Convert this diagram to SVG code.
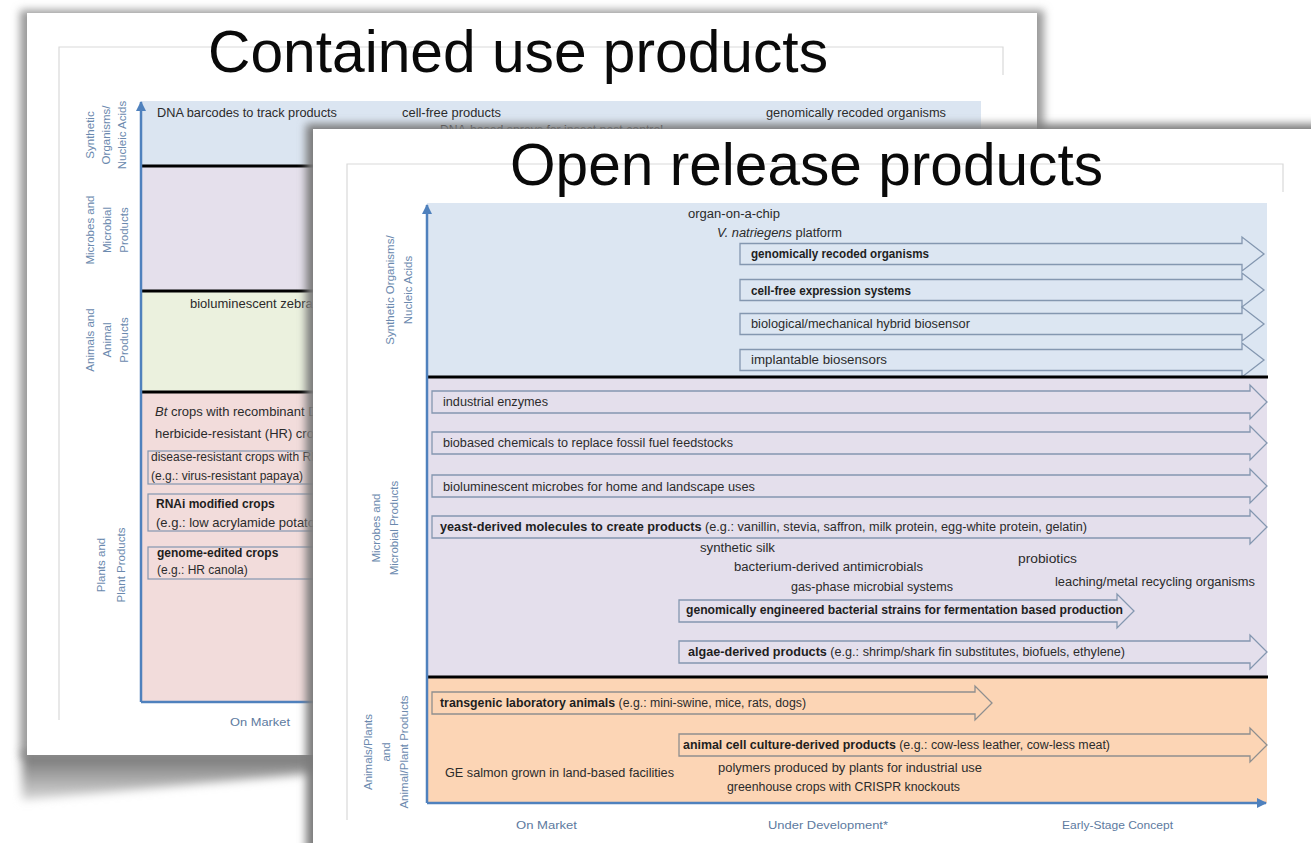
<svg xmlns="http://www.w3.org/2000/svg" width="1311" height="843" viewBox="0 0 1311 843">
<style>
.t{font-family:"Liberation Sans",Arial,sans-serif;font-size:12px;fill:#2b2b2b}
.tc{font-family:"Liberation Sans",Arial,sans-serif;font-size:13px;fill:#2b2b2b}
.b{font-weight:bold;fill:#1e1e1e}
.it{font-style:italic}
.lab{font-family:"Liberation Sans",Arial,sans-serif;font-size:11.5px;fill:#6b89ae;text-anchor:middle}
.ax{font-family:"Liberation Sans",Arial,sans-serif;font-size:11.5px;fill:#5d7aa0}
.title{font-family:"Liberation Sans",Arial,sans-serif;font-size:59px;fill:#0a0a0a}
.frame{stroke:#d9d9d9;stroke-width:1.2;fill:none}
.sep{stroke:#000;stroke-width:3}
.axis{stroke:#4f81bd;stroke-width:2.5;fill:none}
.blk{stroke:#8497b0;stroke-width:1.3}
.blkg{stroke:#8f8f8f;stroke-width:1.3}
.box{fill:none;stroke:#8497b0;stroke-width:1.2}
.fb{fill:#dce6f2}.fl{fill:#e4dfec}.fo{fill:#fcd5b5}
</style>
<defs>
<filter id="blur4" x="-10%" y="-10%" width="120%" height="120%"><feGaussianBlur stdDeviation="4"/></filter>
<filter id="blur6" x="-20%" y="-50%" width="140%" height="200%"><feGaussianBlur stdDeviation="5"/></filter>
<linearGradient id="sg" x1="0" y1="0" x2="0" y2="1"><stop offset="0" stop-color="#6e6e6e"/><stop offset="1" stop-color="#d8d8d8"/></linearGradient>
<marker id="ah" viewBox="0 0 10 10" refX="9" refY="5" markerWidth="4" markerHeight="4" orient="auto"><path d="M0 0 L10 5 L0 10 Z" fill="#4f81bd"/></marker>
<clipPath id="topclip"><rect x="0" y="0" width="1311" height="129"/></clipPath>
</defs>
<rect width="1311" height="843" fill="#fff"/>

<g id="back-page">
<rect x="20" y="10" width="1024" height="748" fill="#9a9a9a" filter="url(#blur4)"/>
<polygon points="22,752 330,752 330,772 22,800" fill="url(#sg)" filter="url(#blur6)"/>
<rect x="27" y="13" width="1010" height="742" fill="#fff"/>
<path class="frame" d="M59 720 V47 H1003 V75"/>
<rect x="141" y="101" width="840" height="65" fill="#dbe5f1"/>
<rect x="141" y="166" width="200" height="125" fill="#e5e0ec"/>
<rect x="141" y="291" width="200" height="101" fill="#ebf1de"/>
<rect x="141" y="392" width="200" height="310" fill="#f2dcdb"/>
<line class="sep" x1="141" y1="166" x2="340" y2="166"/>
<line class="sep" x1="141" y1="291" x2="340" y2="291"/>
<line class="sep" x1="141" y1="392" x2="340" y2="392"/>
<line class="axis" x1="141" y1="702" x2="340" y2="702"/>
<line class="axis" x1="141" y1="702" x2="141" y2="102" marker-end="url(#ah)"/>
<text class="title" x="208" y="72" textLength="620" lengthAdjust="spacingAndGlyphs">Contained use products</text>
<g transform="translate(106,135) rotate(-90)"><text class="lab" x="0" y="-12">Synthetic<tspan x="0" dy="16">Organisms/</tspan><tspan x="0" dy="16">Nucleic Acids</tspan></text></g>
<g transform="translate(107,230) rotate(-90)"><text class="lab" x="0" y="-13">Microbes and<tspan x="0" dy="17">Microbial</tspan><tspan x="0" dy="17">Products</tspan></text></g>
<g transform="translate(107,340) rotate(-90)"><text class="lab" x="0" y="-13">Animals and<tspan x="0" dy="17">Animal</tspan><tspan x="0" dy="17">Products</tspan></text></g>
<g transform="translate(111,565) rotate(-90)"><text class="lab" x="0" y="-6">Plants and<tspan x="0" dy="20">Plant Products</tspan></text></g>
<text class="t" x="157" y="117" textLength="180" lengthAdjust="spacingAndGlyphs">DNA barcodes to track products</text>
<text class="t" x="402" y="117" textLength="99" lengthAdjust="spacingAndGlyphs">cell-free products</text>
<text class="t" x="766" y="117" textLength="180" lengthAdjust="spacingAndGlyphs">genomically recoded organisms</text>
<g clip-path="url(#topclip)"><text class="t" x="440" y="134" textLength="223" lengthAdjust="spacingAndGlyphs">DNA-based sprays for insect pest control</text></g>
<text class="tc" x="190" y="308">bioluminescent zebrafish</text>
<text class="tc" x="155" y="416"><tspan class="it">Bt</tspan> crops with recombinant DNA</text>
<text class="tc" x="155" y="438">herbicide-resistant (HR) crops</text>
<rect class="box" x="148" y="451" width="190" height="33"/>
<text class="t" x="151" y="461">disease-resistant crops with RNAi</text>
<text class="t" x="151" y="480">(e.g.: virus-resistant papaya)</text>
<rect class="box" x="148" y="494" width="190" height="37"/>
<text class="t b" x="156" y="508">RNAi modified crops</text>
<text class="tc" x="156" y="527">(e.g.: low acrylamide potato)</text>
<rect class="box" x="148" y="547" width="190" height="32"/>
<text class="t b" x="157" y="557">genome-edited crops</text>
<text class="t" x="157" y="574">(e.g.: HR canola)</text>
<text class="ax" x="230" y="726" textLength="60" lengthAdjust="spacingAndGlyphs">On Market</text>
</g>

<g id="front-page">
<rect x="306" y="124" width="1020" height="730" fill="#7a7a7a" filter="url(#blur4)"/>
<rect x="313" y="129" width="1000" height="720" fill="#fff"/>
<path class="frame" d="M347 820 V164 H1283 V192"/>
<rect class="fb" x="427" y="203" width="840" height="174"/>
<rect class="fl" x="427" y="377" width="840" height="300"/>
<rect class="fo" x="427" y="677" width="840" height="126"/>
<text class="title" x="510" y="185" textLength="593" lengthAdjust="spacingAndGlyphs">Open release products</text>
<g transform="translate(399,290) rotate(-90)"><text class="lab" x="0" y="-5">Synthetic Organisms/<tspan x="0" dy="18">Nucleic Acids</tspan></text></g>
<g transform="translate(385,528) rotate(-90)"><text class="lab" x="0" y="-5">Microbes and<tspan x="0" dy="18">Microbial Products</tspan></text></g>
<g transform="translate(386,752) rotate(-90)"><text class="lab" x="0" y="-14">Animals/Plants<tspan x="0" dy="18">and</tspan><tspan x="0" dy="18">Animal/Plant Products</tspan></text></g>
<text class="ax" x="516" y="829" textLength="61" lengthAdjust="spacingAndGlyphs">On Market</text>
<text class="ax" x="768" y="829" textLength="120" lengthAdjust="spacingAndGlyphs">Under Development*</text>
<text class="ax" x="1062" y="829" textLength="111" lengthAdjust="spacingAndGlyphs">Early-Stage Concept</text>
</g>

<g id="n-organ-on-chip"><text class="t" x="688" y="218" textLength="92" lengthAdjust="spacingAndGlyphs">organ-on-a-chip</text></g>
<g id="n-vnatriegens"><text class="t" x="717" y="237" textLength="125" lengthAdjust="spacingAndGlyphs"><tspan class="it">V. natriegens</tspan> platform</text></g>
<g id="n-recoded"><path class="fb blk" d="M740 243.5 H1242 V237 L1264 254 L1242 271 V264.5 H740 Z"/><text class="t b" x="751" y="258" textLength="178" lengthAdjust="spacingAndGlyphs">genomically recoded organisms</text></g>
<g id="n-cellfree"><path class="fb blk" d="M740 279.5 H1242 V273 L1264 290 L1242 307 V300.5 H740 Z"/><text class="t b" x="751" y="295" textLength="160" lengthAdjust="spacingAndGlyphs">cell-free expression systems</text></g>
<g id="n-hybrid"><path class="fb blk" d="M740 313.5 H1242 V307 L1264 324 L1242 341 V334.5 H740 Z"/><text class="t" x="751" y="328" textLength="219" lengthAdjust="spacingAndGlyphs">biological/mechanical hybrid biosensor</text></g>
<g id="n-implantable"><path class="fb blk" d="M740 349.5 H1242 V343 L1264 360 L1242 377 V370.5 H740 Z"/><text class="t" x="751" y="364" textLength="136" lengthAdjust="spacingAndGlyphs">implantable biosensors</text></g>

<line class="sep" x1="426" y1="377" x2="1268" y2="377"/>

<g id="n-enzymes"><path class="fl blk" d="M432 391 H1250 V385 L1267 402 L1250 419 V413 H432 Z"/><text class="t" x="443" y="406" textLength="105" lengthAdjust="spacingAndGlyphs">industrial enzymes</text></g>
<g id="n-biobased"><path class="fl blk" d="M432 432 H1250 V426 L1267 443 L1250 460 V454 H432 Z"/><text class="t" x="443" y="447" textLength="290" lengthAdjust="spacingAndGlyphs">biobased chemicals to replace fossil fuel feedstocks</text></g>
<g id="n-biolum"><path class="fl blk" d="M432 475 H1250 V469 L1267 486 L1250 503 V497 H432 Z"/><text class="t" x="443" y="491" textLength="312" lengthAdjust="spacingAndGlyphs">bioluminescent microbes for home and landscape uses</text></g>
<g id="n-yeast"><path class="fl blk" d="M432 516 H1250 V510 L1267 527 L1250 544 V538 H432 Z"/><text class="t" x="440" y="531" textLength="647" lengthAdjust="spacingAndGlyphs"><tspan class="b">yeast-derived molecules to create products</tspan> (e.g.:  vanillin, stevia, saffron, milk protein, egg-white protein, gelatin)</text></g>
<g id="n-silk"><text class="t" x="700" y="552" textLength="75" lengthAdjust="spacingAndGlyphs">synthetic silk</text></g>
<g id="n-antimicrobials"><text class="t" x="734" y="571" textLength="189" lengthAdjust="spacingAndGlyphs">bacterium-derived antimicrobials</text></g>
<g id="n-gasphase"><text class="t" x="791" y="591" textLength="162" lengthAdjust="spacingAndGlyphs">gas-phase microbial systems</text></g>
<g id="n-probiotics"><text class="t" x="1018" y="563" textLength="59" lengthAdjust="spacingAndGlyphs">probiotics</text></g>
<g id="n-leaching"><text class="t" x="1055" y="586" textLength="200" lengthAdjust="spacingAndGlyphs">leaching/metal recycling organisms</text></g>
<g id="n-bacterial"><path class="fl blk" d="M679 600 H1117 V594 L1134 611 L1117 628 V622 H679 Z"/><text class="t b" x="686" y="614" textLength="437" lengthAdjust="spacingAndGlyphs">genomically engineered bacterial strains for fermentation based production</text></g>
<g id="n-algae"><path class="fl blk" d="M679 641 H1250 V635 L1267 652 L1250 669 V663 H679 Z"/><text class="t" x="688" y="656" textLength="437" lengthAdjust="spacingAndGlyphs"><tspan class="b">algae-derived products</tspan> (e.g.:  shrimp/shark fin substitutes, biofuels, ethylene)</text></g>

<line class="sep" x1="426" y1="677" x2="1268" y2="677"/>

<g id="n-transgenic"><path class="fo blkg" d="M432 692 H975 V686 L992 703 L975 720 V714 H432 Z"/><text class="t" x="440" y="707" textLength="366" lengthAdjust="spacingAndGlyphs"><tspan class="b">transgenic laboratory animals</tspan> (e.g.:  mini-swine, mice, rats, dogs)</text></g>
<g id="n-cellculture"><path class="fo blkg" d="M679 734 H1250 V728 L1267 745 L1250 762 V756 H679 Z"/><text class="t" x="683" y="749" textLength="427" lengthAdjust="spacingAndGlyphs"><tspan class="b">animal cell culture-derived products</tspan> (e.g.:  cow-less leather, cow-less meat)</text></g>
<g id="n-salmon"><text class="t" x="445" y="777" textLength="229" lengthAdjust="spacingAndGlyphs">GE salmon grown in land-based facilities</text></g>
<g id="n-polymers"><text class="t" x="718" y="772" textLength="264" lengthAdjust="spacingAndGlyphs">polymers produced by plants for industrial use</text></g>
<g id="n-greenhouse"><text class="t" x="727" y="791" textLength="233" lengthAdjust="spacingAndGlyphs">greenhouse crops with CRISPR knockouts</text></g>

<g id="connectors">
<line class="axis" x1="427" y1="803" x2="427" y2="205" marker-end="url(#ah)"/>
<line class="axis" x1="427" y1="803" x2="1266" y2="803" marker-end="url(#ah)"/>
</g>
</svg>
